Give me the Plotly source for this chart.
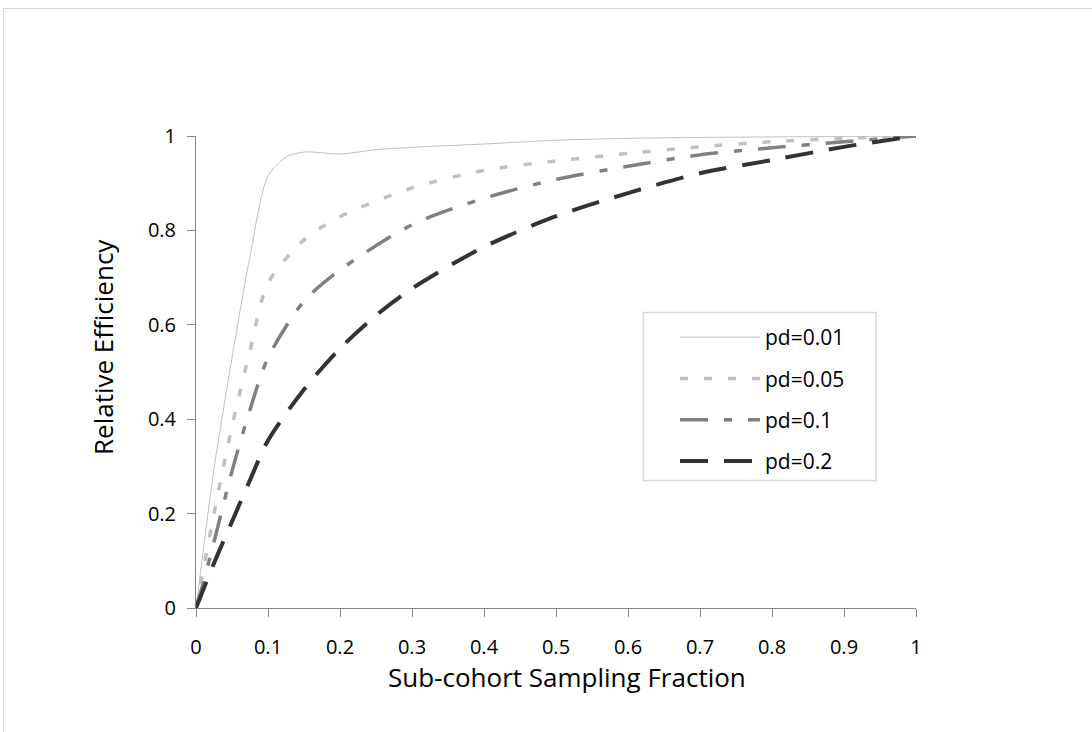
import plotly.graph_objects as go

# ---- data ----
x_pd001 = [0, 0.01, 0.025, 0.05, 0.075, 0.1, 0.125, 0.15, 0.2, 0.25, 0.3, 0.4, 0.5, 0.6, 0.7, 0.8, 0.9, 1.0]
y_pd001 = [0, 0.12, 0.295, 0.53, 0.745, 0.915, 0.955, 0.966, 0.962, 0.971, 0.976, 0.983, 0.991, 0.995, 0.997, 0.998, 0.999, 1.0]

x_pd005 = [0, 0.01, 0.025, 0.05, 0.075, 0.1, 0.15, 0.2, 0.3, 0.4, 0.5, 0.6, 0.7, 0.8, 0.9, 1.0]
y_pd005 = [0, 0.08, 0.2, 0.385, 0.545, 0.688, 0.78, 0.829, 0.89, 0.927, 0.947, 0.963, 0.977, 0.988, 0.995, 1.0]

x_pd01 = [0, 0.01, 0.025, 0.05, 0.075, 0.1, 0.15, 0.2, 0.3, 0.4, 0.5, 0.6, 0.7, 0.8, 0.9, 1.0]
y_pd01 = [0, 0.052, 0.14, 0.29, 0.42, 0.53, 0.65, 0.716, 0.812, 0.868, 0.908, 0.936, 0.96, 0.975, 0.988, 1.0]

x_pd02 = [0, 0.025, 0.05, 0.075, 0.1, 0.15, 0.2, 0.25, 0.3, 0.4, 0.5, 0.6, 0.7, 0.8, 0.9, 1.0]
y_pd02 = [0, 0.095, 0.183, 0.271, 0.355, 0.463, 0.55, 0.62, 0.677, 0.765, 0.83, 0.879, 0.921, 0.949, 0.977, 1.0]

series_names = ["pd=0.01", "pd=0.05", "pd=0.1", "pd=0.2"]
x_ticks = [0, 0.1, 0.2, 0.3, 0.4, 0.5, 0.6, 0.7, 0.8, 0.9, 1]
x_tick_labels = ["0", "0.1", "0.2", "0.3", "0.4", "0.5", "0.6", "0.7", "0.8", "0.9", "1"]
y_ticks = [0, 0.2, 0.4, 0.6, 0.8, 1]
y_tick_labels = ["0", "0.2", "0.4", "0.6", "0.8", "1"]
x_title = "Sub-cohort Sampling Fraction"
y_title = "Relative Efficiency"

FONT = "'Open Sans', 'Noto Sans', sans-serif"

styles = [
    dict(color="#b0b0b0", width=0.8, dash="solid"),
    dict(color="#c0c0c0", width=3.5, dash="8px,16px"),
    dict(color="#808080", width=3.5, dash="28px,16px,8px,16px"),
    dict(color="#333333", width=4, dash="28px,16px"),
]

fig = go.Figure()
for name, xs, ys, st in zip(series_names,
                            [x_pd001, x_pd005, x_pd01, x_pd02],
                            [y_pd001, y_pd005, y_pd01, y_pd02],
                            styles):
    fig.add_trace(go.Scatter(
        x=xs, y=ys, name=name, mode="lines", legendgroup=name,
        line=dict(color=st["color"], width=st["width"], dash=st["dash"],
                  shape="spline", smoothing=0.8),
    ))

W, H = 1092, 732
L, R, T, B = 196, 176, 136, 124
pw, ph = W - L - R, H - T - B

def px_to_paper_x(px):
    return (px - L) / pw

def px_to_paper_y(py):
    return (H - B - py) / ph

fig.update_layout(
    width=W, height=H,
    margin=dict(l=L, r=R, t=T, b=B, pad=0),
    paper_bgcolor="white", plot_bgcolor="white",
    font=dict(family=FONT, size=20, color="#000000"),
    showlegend=True,
    legend=dict(
        x=px_to_paper_x(675), y=px_to_paper_y(317),
        xanchor="left", yanchor="top",
        bgcolor="rgba(0,0,0,0)", borderwidth=0,
        font=dict(family=FONT, size=21, color="#000000"),
        itemwidth=80, tracegroupgap=11, traceorder="grouped",
    ),
    xaxis=dict(
        range=[0, 1], tickmode="array", tickvals=x_ticks, ticktext=x_tick_labels,
        showgrid=False, zeroline=False, showline=True, linecolor="#868686", linewidth=1,
        ticks="outside", ticklen=8, tickcolor="#868686", tickwidth=1,
        ticklabelstandoff=13, fixedrange=True,
        tickfont=dict(family=FONT, size=20),
    ),
    yaxis=dict(
        range=[0, 1], tickmode="array", tickvals=y_ticks, ticktext=y_tick_labels,
        showgrid=False, zeroline=False, showline=True, linecolor="#868686", linewidth=1,
        ticks="outside", ticklen=8, tickcolor="#868686", tickwidth=1,
        ticklabelstandoff=7, fixedrange=True,
        tickfont=dict(family=FONT, size=20),
    ),
    annotations=[
        dict(text=x_title, xref="paper", yref="paper",
             x=px_to_paper_x(567), y=px_to_paper_y(677),
             xanchor="center", yanchor="middle", showarrow=False,
             font=dict(family=FONT, size=26, color="#000000")),
        dict(text=y_title, xref="paper", yref="paper",
             x=px_to_paper_x(103), y=px_to_paper_y(347),
             xanchor="center", yanchor="middle", showarrow=False, textangle=-90,
             font=dict(family=FONT, size=26, color="#000000")),
    ],
    shapes=[
        dict(type="rect", xref="paper", yref="paper",
             x0=px_to_paper_x(3.5), y0=px_to_paper_y(800),
             x1=px_to_paper_x(1200), y1=px_to_paper_y(8.5),
             line=dict(color="#d9d9d9", width=1), fillcolor="rgba(0,0,0,0)", layer="below"),
        dict(type="rect", xref="paper", yref="paper",
             x0=px_to_paper_x(643.5), y0=px_to_paper_y(480.5),
             x1=px_to_paper_x(876), y1=px_to_paper_y(312.5),
             line=dict(color="#d9d9d9", width=1.5), fillcolor="white", layer="above"),
    ],
)

fig.write_html("out.html",
               config={"displayModeBar": False},
               post_script="document.body.style.margin='0px';document.body.style.padding='0px';")
